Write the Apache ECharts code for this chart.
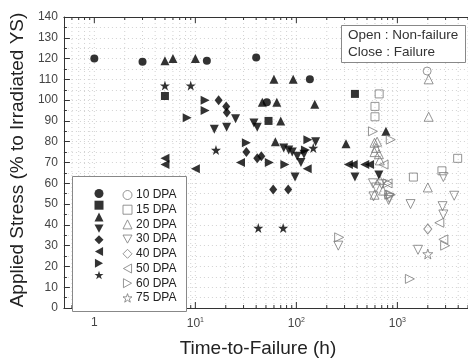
<!DOCTYPE html>
<html><head><meta charset="utf-8">
<script src="https://cdn.jsdelivr.net/npm/echarts@6/dist/echarts.min.js"></script>
<style>html,body{margin:0;padding:0;background:#fff}#c{width:468px;height:363px}</style>
</head><body><div id="c"></div>
<script>
// ---- data: [time-to-failure (h), applied stress (% of irradiated YS)] ----
const dpaLabels = ['10 DPA','15 DPA','20 DPA','30 DPA','40 DPA','50 DPA','60 DPA','75 DPA'];
const fail10 = [[1,120],[3,118.5],[13,119],[40,120.5],[136,110],[51,99]];
const open10 = [[1970,114]];
const fail15 = [[5,102],[380,103],[53,90]];
const open15 = [[660,103],[600,97],[600,92],[3950,72],[1440,63],[2760,66]];
const fail20 = [[5,119],[6,120],[10,120],[60,110],[93,110],[46,99],[64,99],[70,90],[62,80],[152,98],[310,79],[770,85]];
const open20 = [[2040,110],[2040,92],[2000,58],[594,79.5],[630,80],[614,77],[594,75],[656,74],[670,71],[720,56.5],[594,54.5],[670,61.5]];
const fail30 = [[15.4,86],[20.4,87],[25,91],[38,89],[41,87],[97,63],[75,77],[84,76],[91,75],[102,73],[111,70],[119,74],[155,80],[380,63],[656,64]];
const open30 = [[260,30],[1350,50],[2800,49],[2850,45],[3650,54],[2850,63],[1600,28],[573,60],[700,59.5],[614,58],[580,53.7],[820,52],[830,53]];
const fail40 = [[17,100],[20.2,97],[20.5,94],[32,75],[41,72],[45,73],[59,57],[83,57]];
const open40 = [[2000,38]];
const fail50 = [[5,72],[5,69],[10,67],[28,70],[128,67],[327,69],[365,69],[475,69],[530,69]];
const open50 = [[730,69],[800,60],[2600,41],[2850,33]];
const fail60 = [[8.3,91.5],[12.5,100],[12.5,95],[32,79.5],[54,70],[77,69],[130,81],[123,76]];
const open60 = [[265,34],[1330,14],[2970,30],[830,54.5],[573,85],[860,81],[800,60],[860,54.5]];
const fail75 = [[5,107],[9,107],[16,76],[42,38.5],[74,38.5],[147,77]];
const open75 = [[2000,26]];
const xTickVals = [0.6,0.7,0.8,0.9,1,2,3,4,5,6,7,8,9,10,20,30,40,50,60,70,80,90,100,200,300,400,500,600,700,800,900,1000,2000,3000,4000,5000];
const yMin = 0, yMax = 140, yStep = 10;

const symbols = ['circle','rect','triangle',
  'path://M0,0 L10,0 L5,9 Z',
  'diamond',
  'path://M0,5 L9,0 L9,10 Z',
  'path://M0,0 L9,5 L0,10 Z',
  'path://M5,0 L6.2,3.6 L10,3.6 L7,5.9 L8.1,9.5 L5,7.3 L1.9,9.5 L3,5.9 L0,3.6 L3.8,3.6 Z'];
const sizes = [8,8,9,9,[8,10],9,9,10];
const failData = [fail10,fail15,fail20,fail30,fail40,fail50,fail60,fail75];
const openData = [open10,open15,open20,open30,open40,open50,open60,open75];
const GREY = '#7a7a7a';
const openStyle = {color:'rgba(0,0,0,0)', borderColor:GREY, borderWidth:1};
const failStyle = {color:'#000'};

const isPow10 = v => { const e = Math.log10(v); return Math.abs(e - Math.round(e)) < 1e-6; };

const series = [{
  type:'custom', xAxisIndex:0, yAxisIndex:0, z:1, silent:true,
  data: xTickVals.map(v => [v, yMin]),
  encode:{x:0,y:1},
  renderItem:(params, api) => {
    const v = api.value(0);
    const b = api.coord([v, yMin]), t = api.coord([v, yMax]);
    const len = isPow10(v) ? 6 : 3;
    return {type:'group', children:[
      {type:'line', shape:{x1:b[0],y1:b[1],x2:t[0],y2:t[1]}, style:{stroke:'#d2d2d2',lineWidth:1,lineDash:[1,3]}},
      {type:'line', shape:{x1:b[0],y1:b[1],x2:b[0],y2:b[1]-len}, style:{stroke:'#333',lineWidth:1}},
      {type:'line', shape:{x1:t[0],y1:t[1],x2:t[0],y2:t[1]+len}, style:{stroke:'#333',lineWidth:1}}
    ]};
  }
}];
dpaLabels.forEach((lab, i) => {
  series.push({name:lab+' ', type:'scatter', data:failData[i], symbol:symbols[i], symbolSize:sizes[i], itemStyle:failStyle, z:3});
  series.push({name:lab, type:'scatter', data:openData[i], symbol:symbols[i], symbolSize:sizes[i], itemStyle:openStyle, z:3});
});

const chart = echarts.init(document.getElementById('c'), null, {renderer:'canvas'});
const FONT = 'Liberation Sans, Arial, sans-serif';
chart.setOption({
  animation:false,
  grid:{left:63, top:17, width:410, height:299.5},
  xAxis:[{
    type:'log', logBase:10, min:0.5, max:5000, position:'bottom',
    axisLine:{lineStyle:{color:'#333'}}, axisTick:{show:false}, splitLine:{show:false},
    axisLabel:{color:'#444', fontFamily:FONT, fontSize:12, margin:9,
      showMinLabel:false, showMaxLabel:false,
      formatter:v => { if(!isPow10(v)) return ''; const e = Math.round(Math.log10(v)); return e===0 ? '1' : '{b|10}{s|'+e+'}'; },
      rich:{b:{fontSize:12,color:'#444',fontFamily:FONT}, s:{fontSize:7,color:'#444',fontFamily:FONT,padding:[0,0,7,0]}}},
    name:'Time-to-Failure (h)', nameLocation:'middle', nameGap:31,
    nameTextStyle:{fontFamily:FONT, fontSize:19, color:'#222', padding:[0,16,0,0]}
  },{
    type:'log', logBase:10, min:0.5, max:5000, position:'top',
    axisLine:{lineStyle:{color:'#333'}}, axisTick:{show:false}, axisLabel:{show:false}, splitLine:{show:false}
  }],
  yAxis:[{
    type:'value', min:yMin, max:yMax, interval:yStep,
    axisLine:{show:true, lineStyle:{color:'#333'}},
    axisTick:{inside:true, length:6, lineStyle:{color:'#333'}},
    minorTick:{show:true, splitNumber:2, length:3, lineStyle:{color:'#333'}},
    splitLine:{show:true, lineStyle:{color:'#d2d2d2', type:[1,3]}},
    minorSplitLine:{show:true, lineStyle:{color:'#d2d2d2', type:[1,3]}},
    axisLabel:{color:'#444', fontFamily:FONT, fontSize:12, margin:6},
    name:'Applied Stress (% to Irradiated YS)', nameLocation:'middle', nameGap:34,
    nameTextStyle:{fontFamily:FONT, fontSize:19, color:'#222', padding:[0,0,0,5]}
  }],
  legend:[{
    orient:'vertical', left:89.5, top:184, itemWidth:9, itemHeight:9, itemGap:2.7,
    formatter:() => '', selectedMode:false, z:6, textStyle:{fontSize:12, fontFamily:FONT},
    data: dpaLabels.map((l,i) => ({name:l+' ', icon:symbols[i], itemStyle:failStyle}))
  },{
    orient:'vertical', left:117.5, top:184, itemWidth:9, itemHeight:9, itemGap:2.7,
    selectedMode:false, z:6, textStyle:{fontFamily:FONT, fontSize:12, color:'#222', padding:[0,0,0,-1]},
    data: dpaLabels.map((l,i) => ({name:l, icon:symbols[i], itemStyle:openStyle}))
  }],
  graphic:[
    {type:'rect', z:4, shape:{x:72.5,y:176.5,width:114,height:135}, style:{fill:'#fff', stroke:'#888', lineWidth:1}},
    {type:'rect', z:4, shape:{x:341.5,y:25.5,width:124,height:37}, style:{fill:'#fff', stroke:'#888', lineWidth:1}},
    {type:'text', z:5, left:348, top:28, style:{text:'Open : Non-failure', font:'13.5px '+FONT, fill:'#333'}},
    {type:'text', z:5, left:348, top:45, style:{text:'Close : Failure', font:'13.5px '+FONT, fill:'#333'}}
  ],
  series
});
</script></body></html>
